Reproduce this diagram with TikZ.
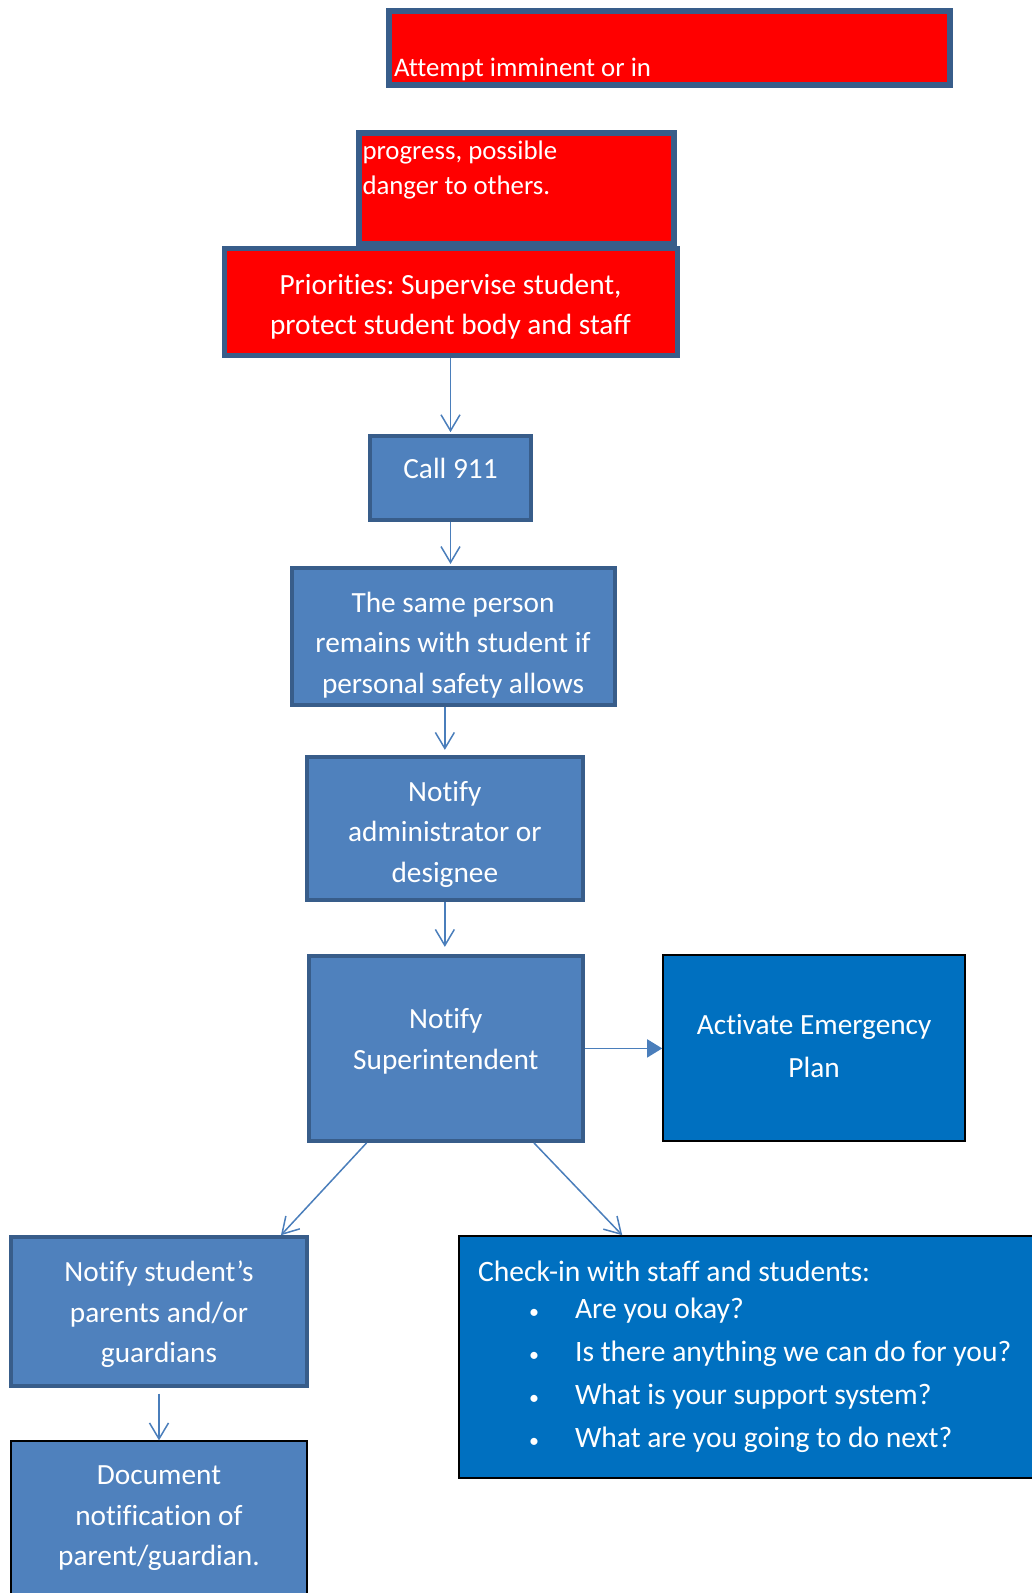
\documentclass[tikz,border=0pt]{standalone}
\usepackage{fontspec}
\setmainfont{Carlito}[Ligatures=NoCommon]
\usepackage{tikz}
\usetikzlibrary{positioning, arrows.meta}
\definecolor{AlarmRed}{HTML}{FF0000}
\definecolor{BoxBlue}{HTML}{4F81BD}
\definecolor{BoxEdge}{HTML}{385D8A}
\definecolor{DeepBlue}{HTML}{0070C0}
\definecolor{ArrowBlue}{HTML}{4A7EBB}
\newcommand{\listdot}{{\fontsize{20}{20}\selectfont\textbullet}}
\newcommand{\listline}[1]{\hspace*{51pt}\makebox[46pt][l]{\listdot}#1}
\newcommand{\padtop}[1]{\rule{0pt}{#1}}
\newcommand{\padbot}[1]{\rule[-#1]{0pt}{#1}}
\frenchspacing

\begin{document}
\begin{tikzpicture}[
    x=1pt, y=1pt,
    redbox/.style={draw=BoxEdge, line width=6pt, fill=AlarmRed, text=white, inner ysep=0pt, font=\fontsize{26.8}{34.5}\selectfont},
    bluebox/.style={draw=BoxEdge, line width=4pt, fill=BoxBlue, text=white, inner ysep=0pt, align=flush center, font=\fontsize{29.3}{40.5}\selectfont},
    deepbox/.style={draw=black, line width=2pt, fill=DeepBlue, text=white, inner ysep=0pt, font=\fontsize{29.3}{43}\selectfont},
    arr/.style={-{Straight Barb[length=16pt,width=19pt]}, line width=1.5pt, color=ArrowBlue},
    fillarr/.style={-{Triangle[length=15pt,width=18pt]}, line width=1.5pt, color=ArrowBlue}
]
\useasboundingbox (0,0) rectangle (1032,-1593);

% Red warning boxes
\node[redbox, minimum width=561pt, text width=551pt, inner xsep=5pt, align=flush left, text height=65pt, text depth=9pt] (attempt) at (669.5,-48) {Attempt imminent or in};
\node[redbox, below=42pt of attempt, xshift=-153.5pt, minimum width=315pt, inner xsep=4pt, text height=61pt, text depth=50pt] (progress) {\parbox[b]{307pt}{\raggedright progress, possible\\danger to others.}};
\node[redbox, below=-1pt of progress, xshift=-65.5pt, line width=5pt, minimum width=453pt, minimum height=106.7pt, text width=440pt, align=flush center, font=\fontsize{29.3}{40}\selectfont] (priorities) {\padtop{35pt}Priorities: Supervise student,\\protect student body and staff\padbot{10pt}};

% Main chain
\node[bluebox, below=76.5pt of priorities, minimum width=161pt, text height=42.5pt, text depth=41.5pt] (call) {Call 911};
\node[bluebox, below=43.8pt of call, xshift=2.5pt, minimum width=323pt, minimum height=137.2pt, text width=300pt] (same) {\padtop{42.4pt}The same person\\remains with student if\\personal safety allows\padbot{10pt}};
\node[bluebox, below=47.7pt of same, xshift=-8.15pt, minimum width=276.3pt, minimum height=143.3pt, text width=250pt] (admin) {\padtop{36.3pt}Notify\\administrator or\\designee\padbot{10pt}};
\node[bluebox, below=51.7pt of admin, xshift=1pt, minimum width=274.3pt, minimum height=185pt, text width=250pt] (super) {\padtop{26.1pt}Notify\\Superintendent\padbot{25pt}};
\node[deepbox, right=77.2pt of super, align=flush center, minimum width=301.8pt, minimum height=186pt, text width=280pt] (activate) {\padtop{27.8pt}Activate Emergency\\Plan\padbot{12pt}};

% Lower branches
\node[bluebox, below=92.3pt of super, xshift=-286.85pt, minimum width=295.7pt, minimum height=148.4pt, text width=270pt] (parents) {\padtop{31.6pt}Notify student’s\\parents and/or\\guardians\padbot{10pt}};
\node[bluebox, draw=black, line width=2pt, below=52.8pt of parents, minimum width=295.6pt, minimum height=154pt, text width=270pt] (document) {\padtop{25.8pt}Document\\notification of\\parent/guardian.\padbot{12pt}};
\node[deepbox, right=149.2pt of parents.north east, anchor=north west, minimum width=580pt, minimum height=242pt, text width=550pt, inner xsep=19pt, align=flush left, font=\fontsize{29.6}{43}\selectfont] (checkin) {Check-in with staff and students:\\[-6pt]
\listline{Are you okay?}\\
\listline{Is there anything we can do for you?}\\
\listline{What is your support system?}\\
\listline{What are you going to do next?}};

\draw[arr, shorten >=2pt] (priorities) -- (call);
\draw[arr, shorten >=2pt] (call.south) -- (call.south |- same.north);
\draw[arr, shorten >=5pt] (admin.north |- same.south) -- (admin.north);
\draw[arr, shorten >=7pt] (admin.south) -- (admin.south |- super.north);
\draw[fillarr] (super.east) -- (activate.west);
\draw[arr] (super.230) -- (parents.32.6);
\draw[arr] (super.313.4) -- (checkin.137);
\draw[arr, shorten <=6pt] (parents.south) -- (parents.south |- document.north);

\end{tikzpicture}
\end{document}
